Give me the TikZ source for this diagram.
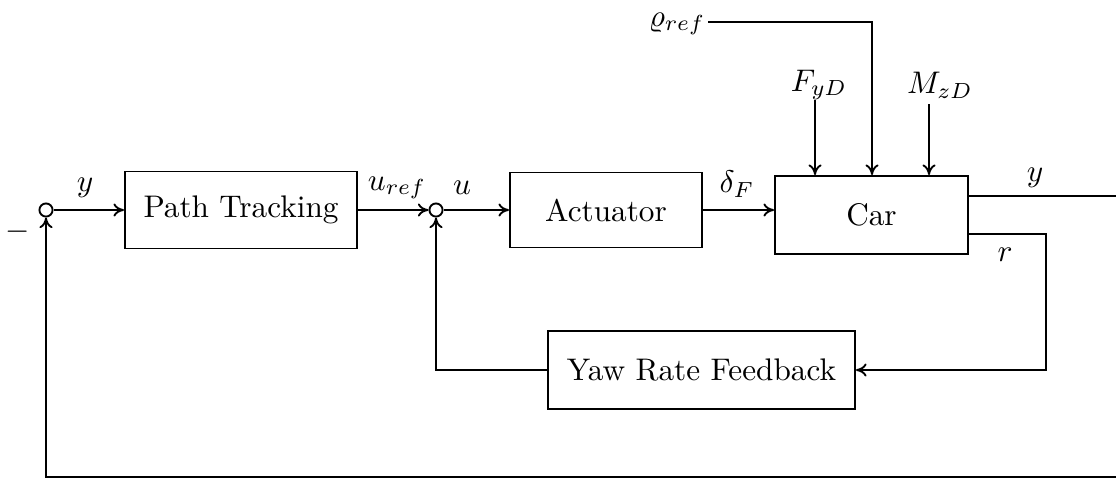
\documentclass[tikz,border=0pt]{standalone}
\usetikzlibrary{arrows.meta}
\begin{document}
\begin{tikzpicture}[x=0.32pt,y=-0.32pt,
  line width=0.6pt, >={To[length=3.4pt,width=4.2pt]},
  block/.style={draw, line width=0.6pt, inner sep=0pt, anchor=center},
  sumpt/.style={draw, circle, inner sep=0pt, minimum size=4.2pt, line width=0.6pt},
  sig/.style={->},
  lbl/.style={inner sep=0pt, anchor=center}]
\useasboundingbox (0,0) rectangle (1116,489);

% summing junctions
\node[sumpt] (s1) at (46,210) {};
\node[sumpt] (s2) at (436,210) {};

% blocks
\node[block, minimum width=232*0.32pt, minimum height=77*0.32pt] (pt) at (241,210) {Path Tracking};
\node[block, minimum width=192*0.32pt, minimum height=75*0.32pt] (act) at (606,210) {Actuator};
\node[block, minimum width=193*0.32pt, minimum height=78*0.32pt] (car) at (871.5,215) {Car};
\node[block, minimum width=307*0.32pt, minimum height=78*0.32pt] (yaw) at (701.5,370) {Yaw Rate Feedback};

% inputs and taps
\coordinate (rho) at (708,22);
\coordinate (fyd) at (815,100);
\coordinate (mzd) at (929,104);
\coordinate (yout) at (1116,196);
\coordinate (ybot) at (1116,477);
\coordinate (rcorner) at (1046,234);

% forward path
\draw[sig] (s1) -- (pt.west);
\draw[sig] (pt.east) -- (s2);
\draw[sig] (s2) -- (act.west);
\draw[sig] (act.east) -- (car.west |- act.east);

% disturbances and reference
\draw[sig] (fyd) -- (fyd |- car.north);
\draw[sig] (mzd) -- (mzd |- car.north);
\draw[sig] (rho) -| (872,0 |- car.north);

% outputs
\draw (car.east |- yout) -- (yout);
\draw[sig] (car.east |- rcorner) -- (rcorner) |- (yaw.east);

% inner and outer feedback
\draw[sig] (yaw.west) -| (s2.south);
\draw[sig] (ybot) -| (s1.south);

% labels
\node[lbl] at (85,188) {$y$};
\node[lbl] at (397,188) {$u_{ref}$};
\node[lbl] at (462,188) {$u$};
\node[lbl] at (737,184) {$\delta_F$};
\node[lbl] at (1035,178) {$y$};
\node[lbl] at (1005,255) {$r$};
\node[lbl] at (819,85) {$F_{yD}$};
\node[lbl] at (940,85) {$M_{zD}$};
\node[lbl] at (677,24) {$\varrho_{ref}$};
\node[lbl] at (18,232) {$-$};
\end{tikzpicture}
\end{document}
